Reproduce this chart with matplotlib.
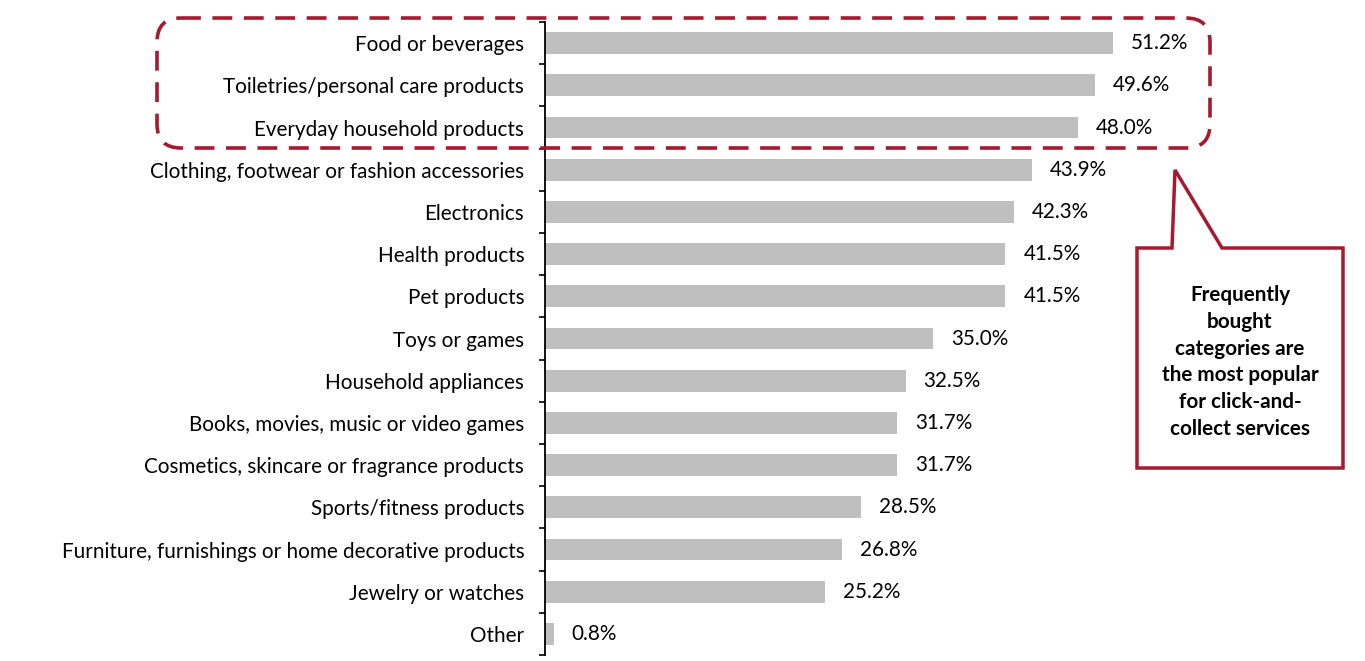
import matplotlib
matplotlib.use("Agg")
import matplotlib.pyplot as plt
from matplotlib.patches import FancyBboxPatch, Polygon

categories = [
    "Food or beverages",
    "Toiletries/personal care products",
    "Everyday household products",
    "Clothing, footwear or fashion accessories",
    "Electronics",
    "Health products",
    "Pet products",
    "Toys or games",
    "Household appliances",
    "Books, movies, music or video games",
    "Cosmetics, skincare or fragrance products",
    "Sports/fitness products",
    "Furniture, furnishings or home decorative products",
    "Jewelry or watches",
    "Other",
]
values = [51.2, 49.6, 48.0, 43.9, 42.3, 41.5, 41.5, 35.0, 32.5, 31.7, 31.7, 28.5, 26.8, 25.2, 0.8]
callout_text = "Frequently\nbought\ncategories are\nthe most popular\nfor click-and-\ncollect services"

plt.rcParams['font.family'] = ['Lato', 'DejaVu Sans']
W, H = 1365, 661
fig = plt.figure(figsize=(W / 100, H / 100), dpi=100)
RED = "#A6192E"
BAR = "#BFBFBF"
FS = 14.9

x0, ytop, ybot = 545, 22, 655
scale = (1113 - 545) / 51.2
ax = fig.add_axes([x0 / W, (H - ybot) / H, (W - x0) / W, (ybot - ytop) / H])
ypos = list(range(len(categories)))
ax.barh(ypos, values, height=0.52, color=BAR)
ax.set_ylim(len(categories) - 0.5, -0.5)
ax.set_xlim(0, (W - x0) / scale)
for y, v in zip(ypos, values):
    ax.text(v + 18 / scale, y, f"{v:.1f}%", va="center", ha="left", fontsize=FS, color="black")

ax.set_yticks(ypos)
ax.set_yticklabels(categories, fontsize=FS)
ax.tick_params(axis="y", which="major", length=0, pad=15)
ax.set_yticks([i - 0.5 for i in range(len(categories) + 1)], minor=True)
ax.tick_params(axis="y", which="minor", length=4, width=1.2, direction="out")
ax.set_xticks([])
for s in ["top", "right", "bottom"]:
    ax.spines[s].set_visible(False)
ax.spines["left"].set_linewidth(1.3)

# overlay in pixel coordinates
ov = fig.add_axes([0, 0, 1, 1], facecolor="none")
ov.set_xlim(0, W)
ov.set_ylim(H, 0)
ov.axis("off")

box = FancyBboxPatch((157, 18), 1210 - 157, 148 - 18,
                     boxstyle="round,pad=0,rounding_size=24",
                     fill=False, edgecolor=RED, linewidth=2.6,
                     linestyle=(0, (5.5, 3.2)))
ov.add_patch(box)

pts = [(1137, 248), (1172, 248), (1175, 170), (1222, 248), (1343, 248),
       (1343, 468), (1137, 468)]
ov.add_patch(Polygon(pts, closed=True, facecolor="white", edgecolor=RED,
                     linewidth=2.5, joinstyle="miter"))
ov.text(1240, 362, callout_text, ha="center", va="center", fontsize=FS,
        fontweight="bold", linespacing=1.42, color="black")

fig.savefig("out.png", dpi=100)
